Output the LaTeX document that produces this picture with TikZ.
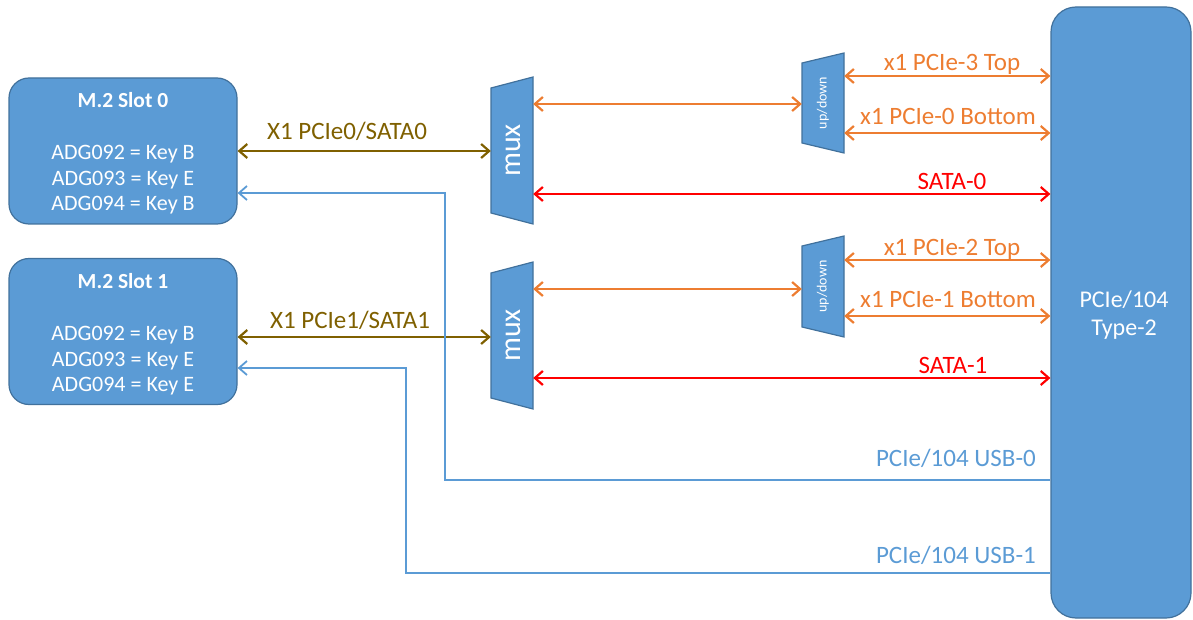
\documentclass[tikz,border=0pt]{standalone}
\usepackage{fontspec}
\setmainfont{Carlito}
\usetikzlibrary{arrows.meta}
\definecolor{boxblue}{HTML}{5B9BD5}
\definecolor{boxedge}{HTML}{41719C}
\definecolor{orng}{HTML}{ED7D31}
\definecolor{olivebr}{HTML}{7F6000}
\definecolor{redd}{HTML}{FF0000}
\begin{document}
\begin{tikzpicture}[x=1pt,y=-1pt,
  blk/.style={draw=boxedge, fill=boxblue, line width=1.2pt},
  slot/.style={blk, rounded corners=20pt, minimum width=228pt, minimum height=146pt, inner sep=0pt},
  ghost/.style={inner sep=0pt, minimum width=42pt},
  wtxt/.style={text=white, font=\fontsize{22}{25}\selectfont, inner sep=0pt, anchor=base},
  wbold/.style={text=white, font=\bfseries\fontsize{21.5}{24}\selectfont, inner sep=0pt, anchor=base},
  lbl/.style={font=\fontsize{25}{29}\selectfont, inner sep=0pt, anchor=base},
  tip/.tip={Straight Barb[length=8pt,width=14pt]},
  link/.style={line width=2.2pt, tip-tip},
  usb/.style={line width=1.8pt, draw=boxblue, -tip},
]
\useasboundingbox (0,0) rectangle (1193,620);

% slots
\node[slot] (s0) at (123,151) {};
\node[wbold] (s0t) at (123,108) {M.2 Slot 0};
\node[wtxt] (s0a) at (123,160) {ADG092 = Key B};
\node[wtxt] (s0b) at (123,186) {ADG093 = Key E};
\node[wtxt] (s0c) at (123,211) {ADG094 = Key B};

\node[slot] (s1) at (123,331.5) {};
\node[wbold] (s1t) at (123,288) {M.2 Slot 1};
\node[wtxt] (s1a) at (123,340) {ADG092 = Key B};
\node[wtxt] (s1b) at (123,366) {ADG093 = Key E};
\node[wtxt] (s1c) at (123,391) {ADG094 = Key E};

% PCIe/104 board
\node[blk, rounded corners=25pt, minimum width=140pt, minimum height=611pt, inner sep=0pt] (pc) at (1121,312.5) {};
\node[wtxt, font=\fontsize{24}{28}\selectfont] (pct1) at (1124,307) {PCIe/104};
\node[wtxt, font=\fontsize{24}{28}\selectfont] (pct2) at (1124,335) {Type-2};

% muxes
\draw[blk] (491,88) -- (533,77) -- (533,224) -- (491,213) -- cycle;
\node[ghost, minimum height=147pt] (m0) at (512,150.5) {};
\node[text=white, font=\fontsize{30}{34}\selectfont, rotate=90, inner sep=0pt] (m0t) at (513,150.5) {mux};

\draw[blk] (491,273) -- (533,262) -- (533,409) -- (491,398) -- cycle;
\node[ghost, minimum height=147pt] (m1) at (512,335.5) {};
\node[text=white, font=\fontsize{30}{34}\selectfont, rotate=90, inner sep=0pt] (m1t) at (513,335.5) {mux};

% up/down
\draw[blk] (802,63) -- (844,53) -- (844,153) -- (802,143) -- cycle;
\node[ghost, minimum height=100pt] (u0) at (823,103) {};
\node[text=white, font=\fontsize{14}{16}\selectfont, rotate=90, inner sep=0pt] (u0t) at (823,103) {up/down};

\draw[blk] (802,246) -- (844,236) -- (844,337) -- (802,327) -- cycle;
\node[ghost, minimum height=101pt] (u1) at (823,286.5) {};
\node[text=white, font=\fontsize{14}{16}\selectfont, rotate=90, inner sep=0pt] (u1t) at (823,286.5) {up/down};

% slot <-> mux
\draw[link, olivebr] (s0.east) -- (s0.east -| m0.west);
\draw[link, olivebr] ([yshift=-5.5pt]s1.east) coordinate (o1) -- (o1 -| m1.west);
\node[lbl, text=olivebr] (l0) at (347,140) {X1 PCIe0/SATA0};
\node[lbl, text=olivebr] (l1) at (350,328) {X1 PCIe1/SATA1};

% mux <-> up/down
\draw[link, orng] ([yshift=-1pt]u0.west) coordinate (q0) -- (q0 -| m0.east);
\draw[link, orng] ([yshift=-2.5pt]u1.west) coordinate (q1) -- (q1 -| m1.east);

% up/down <-> board
\draw[link, orng] ([yshift=27pt]u0.east) coordinate (a0) -- (a0 -| pc.west);
\draw[link, orng] ([yshift=-30pt]u0.east) coordinate (b0) -- (b0 -| pc.west);
\draw[link, orng] ([yshift=26.5pt]u1.east) coordinate (a1) -- (a1 -| pc.west);
\draw[link, orng] ([yshift=-29.5pt]u1.east) coordinate (b1) -- (b1 -| pc.west);
\node[lbl, text=orng] (t3) at (952,71) {x1 PCIe-3 Top};
\node[lbl, text=orng] (t0) at (948,125) {x1 PCIe-0 Bottom};
\node[lbl, text=orng] (t2) at (952,255) {x1 PCIe-2 Top};
\node[lbl, text=orng] (t1) at (948,307) {x1 PCIe-1 Bottom};

% SATA
\draw[link, redd] ([yshift=-43.5pt]m0.east) coordinate (c0) -- (c0 -| pc.west);
\draw[link, redd] ([yshift=-42.5pt]m1.east) coordinate (c1) -- (c1 -| pc.west);
\node[lbl, text=redd] (sa0) at (952,190) {SATA-0};
\node[lbl, text=redd] (sa1) at (953,373) {SATA-1};

% USB
\coordinate (k0) at (445,193);
\coordinate (k1) at (406,368);
\draw[usb] ([yshift=-167.5pt]pc.west) -| (k0) -- (k0 -| s0.east);
\draw[usb] ([yshift=-260.5pt]pc.west) -| (k1) -- (k1 -| s1.east);
\node[lbl, text=boxblue, anchor=base east] (us0) at (1036,466) {PCIe/104 USB-0};
\node[lbl, text=boxblue, anchor=base east] (us1) at (1036,563) {PCIe/104 USB-1};
\end{tikzpicture}
\end{document}
